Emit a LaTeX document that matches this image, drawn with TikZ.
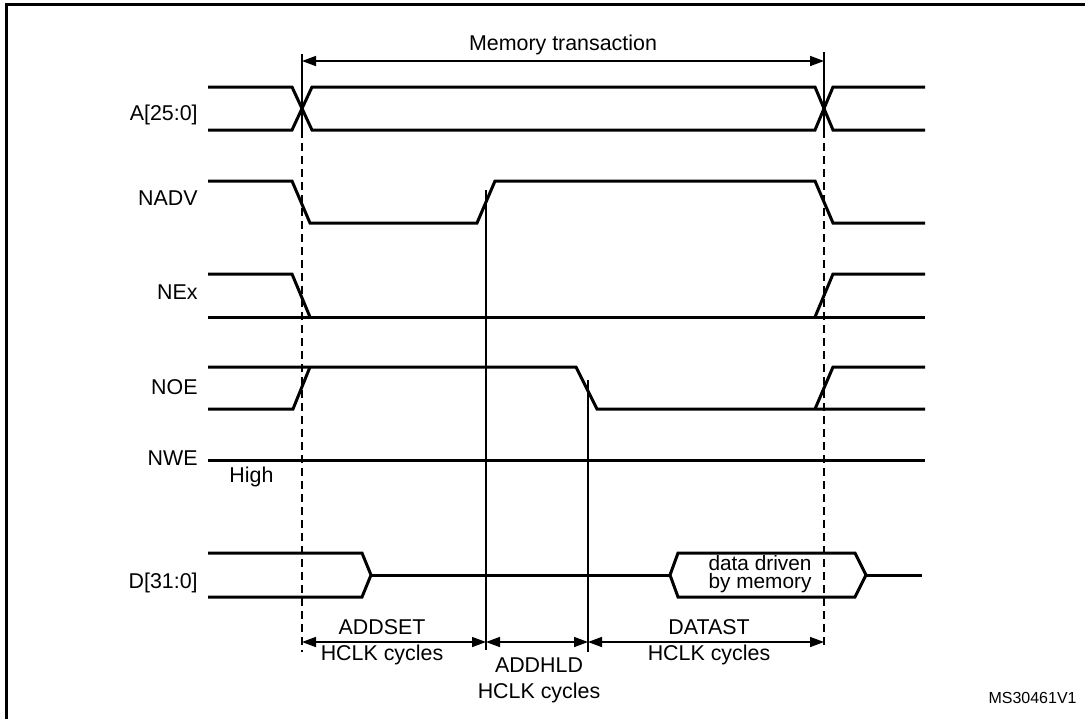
\documentclass[tikz,border=0pt]{standalone}
\usepackage{fontspec}
\setmainfont{Liberation Sans}
\usetikzlibrary{arrows.meta}

\tikzset{
	sig/.style={line width=1.5pt, line join=miter},
	guide/.style={line width=0.8pt},
	guidedash/.style={line width=0.8pt, dash pattern=on 4pt off 2.5pt},
	dim/.style={line width=0.8pt, {Triangle[length=7pt,width=5pt]}-{Triangle[length=7pt,width=5pt]}},
	lbl/.style={inner sep=0pt, font=\fontsize{10.7}{12.75}\selectfont},
}

\begin{document}
\begin{tikzpicture}[x=0.5pt, y=-0.5pt]
	
	\useasboundingbox (0,0) rectangle (1085,719);
	\draw[line width=1.5pt] (6,719) -- (6,4) -- (1085,4);
	
	\node[lbl, anchor=base east] (a)    at (198,120) {A[25:0]};
	\node[lbl, anchor=base east] (nadv) at (198,205) {NADV};
	\node[lbl, anchor=base east] (nex)  at (198,299) {NEx};
	\node[lbl, anchor=base east] (noe)  at (198,394) {NOE};
	\node[lbl, anchor=base east] (nwe)  at (198,465) {NWE};
	\node[lbl, anchor=base west] (high) at (229,482) {High};
	\node[lbl, anchor=base east] (d)    at (198,588) {D[31:0]};
	
	\coordinate (m0) at (302,61);
	\coordinate (m1) at (824,61);
	\coordinate (g0) at (302,54);
	\coordinate (g0x) at (302,130);
	\coordinate (g0b) at (302,652);
	\coordinate (g3) at (824,52);
	\coordinate (g3x) at (824,130);
	\coordinate (g3b) at (824,647);
	\coordinate (g1) at (486,190);
	\coordinate (g1b) at (486,650);
	\coordinate (g2) at (588,380);
	\coordinate (g2b) at (588,652);
	\coordinate (d0) at (302,642);
	\coordinate (d1) at (486,642);
	\coordinate (d2) at (588,642);
	\coordinate (d3) at (824,642);
	
	% waveforms
	\draw[sig] (208,87) -- (292,87) -- (312,130) -- (815,130) -- (833,87) -- (925,87);
	\draw[sig] (208,130) -- (292,130) -- (312,87) -- (815,87) -- (833,130) -- (925,130);
	\draw[sig] (208,181) -- (292,181) -- (310,223) -- (477,223) -- (495,181) -- (815,181) -- (833,223) -- (925,223);
	\draw[sig] (208,274) -- (292,274) -- (310,317);
	\draw[sig] (208,317) -- (925,317);
	\draw[sig] (815,317) -- (833,274) -- (925,274);
	\draw[sig] (208,367) -- (576,367) -- (597,409) -- (925,409);
	\draw[sig] (208,409) -- (293,409) -- (310,367);
	\draw[sig] (815,409) -- (833,367) -- (925,367);
	\draw[sig] (208,460) -- (925,460);
	\draw[sig] (208,553) -- (362,553) -- (371,575) -- (362,597) -- (208,597);
	\draw[sig] (371,575) -- (670,575);
	\draw[sig] (670,575) -- (678,553) -- (855,553) -- (866,575) -- (855,597) -- (678,597) -- cycle;
	\draw[sig] (866,575) -- (922,575);
	
	\node[lbl, anchor=base, font=\fontsize{10.4}{12}\selectfont] (data1) at (760,570) {data driven};
	\node[lbl, anchor=base, font=\fontsize{10.4}{12}\selectfont] (data2) at (760,588) {by memory};
	
	\path[guide] (g0) edge (g0x);
	\path[guidedash] (g0x) edge (g0b);
	\path[guide] (g3) edge (g3x);
	\path[guidedash] (g3x) edge (g3b);
	\path[guide] (g1) edge (g1b);
	\path[guide] (g2) edge (g2b);
	
	\path[dim] (m0) edge (m1);
	\path[dim] (d0) edge (d1);
	\path[dim] (d1) edge (d2);
	\path[dim] (d2) edge (d3);
	
	\node[lbl, anchor=base] (mem) at (563,50) {Memory transaction};
	\node[lbl, anchor=base, align=center] (addset) at (382,660) {ADDSET\\HCLK cycles};
	\node[lbl, anchor=base, align=center] (addhld) at (539,698) {ADDHLD\\HCLK cycles};
	\node[lbl, anchor=base, align=center] (datast) at (709,660) {DATAST\\HCLK cycles};
	\node[lbl, anchor=base east, font=\fontsize{8}{9}\selectfont] (ms) at (1077,703) {MS30461V1};
	
\end{tikzpicture}
\end{document}
